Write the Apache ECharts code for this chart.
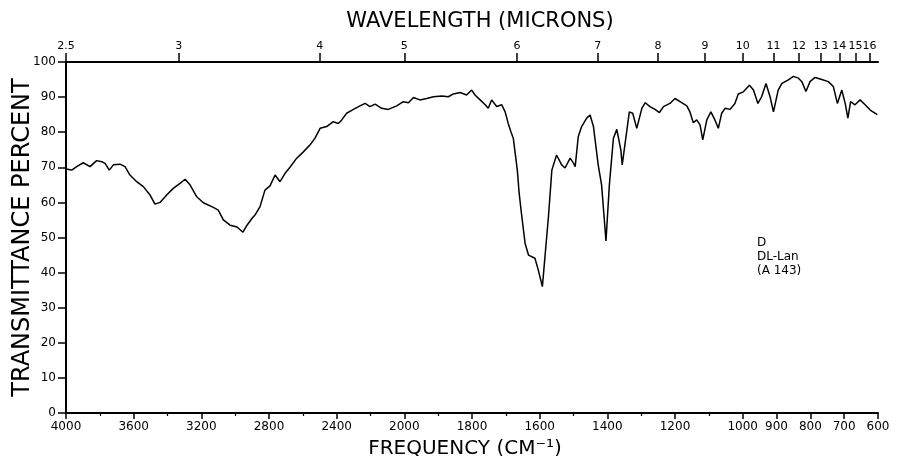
<!DOCTYPE html>
<html>
<head>
<meta charset="utf-8">
<script src="https://cdn.jsdelivr.net/npm/echarts@6/dist/echarts.min.js"></script>
<style>html,body{margin:0;padding:0;background:#fff;}#c{width:898px;height:456px;}</style>
</head>
<body>
<div id="c"></div>
<script>
// Tick labels
const freqTicks = [4000,3600,3200,2800,2400,2000,1800,1600,1400,1200,1000,900,800,700,600];
const freqMinor = [3800,3400,3000,2600,2200,1900,1700,1500,1300,1100];
const micronTicks = [2.5,3,4,5,6,7,8,9,10,11,12,13,14,15,16];
const annotation = ['D','DL-Lan','(A 143)'];

// Spectrum: frequency (cm-1) and transmittance (%)
const freq = [4000,3966,3937,3898,3858,3819,3789,3769,3744,3720,3681,3651,3622,3582,3543,3503,3474,3444,3405,3366,3326,3296,3267,3227,3188,3129,3100,3070,3030,2989,2954,2930,2900,2883,2853,2824,2794,2764,2735,2705,2676,2636,2597,2557,2528,2498,2459,2420,2390,2370,2341,2301,2262,2232,2203,2173,2134,2095,2045,2006,1988,1973,1954,1934,1914,1889,1870,1855,1835,1816,1801,1791,1776,1761,1752,1742,1727,1712,1702,1693,1685,1678,1666,1661,1655,1643,1633,1614,1604,1592,1574,1564,1550,1535,1525,1510,1500,1495,1486,1476,1461,1451,1441,1427,1417,1404,1394,1382,1372,1360,1356,1335,1325,1313,1298,1288,1274,1259,1246,1234,1215,1200,1185,1165,1156,1146,1136,1126,1118,1106,1094,1082,1072,1062,1052,1037,1023,1013,998,980,968,955,944,931,919,909,895,884,865,850,835,825,813,801,786,766,747,732,720,707,697,689,681,668,653,638,623,602];
const trans = [69.5,69.2,70.2,71.3,70.2,71.9,71.6,71.1,69.2,70.7,70.9,70.2,67.8,65.9,64.5,62.1,59.5,60.0,62.1,64.0,65.4,66.6,65.0,61.6,59.9,58.6,57.8,55.0,53.5,53.0,51.5,53.5,55.5,56.4,58.8,63.5,64.7,67.8,65.9,68.3,70.0,72.6,74.4,76.4,78.3,81.1,81.6,83.0,82.5,83.5,85.4,86.5,87.5,88.2,87.3,88.0,86.8,86.5,87.5,88.7,88.4,89.9,89.2,89.6,90.1,90.3,90.1,90.9,91.3,90.6,92.0,90.6,89.2,87.8,86.8,89.2,87.3,87.8,85.8,82.5,80.1,78.3,69.2,63.0,57.8,48.3,45.0,44.1,40.7,36.0,56.0,69.2,73.5,70.7,69.8,72.6,71.2,70.2,78.7,81.6,84.0,84.9,81.6,70.7,65.0,49.0,65.0,78.3,80.8,74.9,70.7,85.8,85.4,81.1,86.8,88.4,87.3,86.5,85.6,87.3,88.2,89.6,88.7,87.5,85.8,82.7,83.5,82.1,77.8,83.5,85.8,83.5,81.1,85.4,86.8,86.5,88.2,90.9,91.5,93.4,92.0,88.2,90.1,93.9,90.1,85.8,92.0,93.9,94.9,95.9,95.4,94.4,91.6,94.4,95.6,95.0,94.4,93.0,88.2,92.0,88.2,84.0,88.7,87.8,89.2,87.8,86.3,85.0];

// Two-scale IR chart abscissa (scale doubles below 2000 cm-1)
function toU(f){ return f >= 2000 ? (4000 - f) / 2 : 1000 + (2000 - f); }
const freqLabelMap = {}; freqTicks.forEach(f => { freqLabelMap[toU(f).toFixed(3)] = String(f); });
const micronLabelMap = {}; micronTicks.forEach(m => { micronLabelMap[toU(10000 / m).toFixed(3)] = String(m); });

const font = 'DejaVu Sans';
const gridBox = {left: 66, right: 20, top: 62, bottom: 43, containLabel: false, outerBoundsMode: 'none'};
const chart = echarts.init(document.getElementById('c'), null, {renderer: 'canvas'});
chart.setOption({
  animation: false,
  backgroundColor: '#fff',
  grid: [Object.assign({}, gridBox), Object.assign({}, gridBox)],
  xAxis: [
    {
      type: 'value', gridIndex: 0, position: 'bottom', min: 0, max: 2400,
      name: 'FREQUENCY (CM⁻¹)', nameLocation: 'middle', nameGap: 26,
      nameTextStyle: {fontFamily: font, fontSize: 20, color: '#000', padding: [0, 14, 0, 0]},
      axisLine: {show: true, onZero: false, lineStyle: {color: '#000', width: 2}},
      axisTick: {show: true, length: 6, customValues: freqTicks.map(toU), lineStyle: {color: '#000', width: 1.5}},
      axisLabel: {show: true, customValues: freqTicks.map(toU), margin: 8, fontFamily: font, fontSize: 12, color: '#000',
        formatter: v => freqLabelMap[Number(v).toFixed(3)] || ''},
      splitLine: {show: false}
    },
    {
      type: 'value', gridIndex: 0, position: 'top', min: 0, max: 2400,
      name: 'WAVELENGTH (MICRONS)', nameLocation: 'middle', nameGap: 30,
      nameTextStyle: {fontFamily: font, fontSize: 21, color: '#000', padding: [0, 0, 0, 16]},
      axisLine: {show: true, onZero: false, lineStyle: {color: '#000', width: 2}},
      axisTick: {show: true, length: 9, customValues: micronTicks.map(m => toU(10000 / m)), lineStyle: {color: '#000', width: 1.5}},
      axisLabel: {show: true, customValues: micronTicks.map(m => toU(10000 / m)), margin: 10, fontFamily: font, fontSize: 11, color: '#000',
        formatter: v => micronLabelMap[Number(v).toFixed(3)] || ''},
      splitLine: {show: false}
    },
    {
      type: 'value', gridIndex: 1, position: 'bottom', min: 0, max: 2400,
      axisLine: {show: false},
      axisTick: {show: true, length: 3, customValues: freqMinor.map(toU), lineStyle: {color: '#000', width: 1.2}},
      axisLabel: {show: false},
      splitLine: {show: false}
    }
  ],
  yAxis: [
    {
      type: 'value', gridIndex: 0, position: 'left', min: 0, max: 100, interval: 10,
      name: 'TRANSMITTANCE PERCENT', nameLocation: 'middle', nameGap: 31, nameRotate: 90, nameMoveOverlap: false,
      nameTextStyle: {fontFamily: font, fontSize: 24, color: '#000'},
      axisLine: {show: true, lineStyle: {color: '#000', width: 2}},
      axisTick: {show: true, length: 8, lineStyle: {color: '#000', width: 1.5}},
      axisLabel: {margin: 10, fontFamily: font, fontSize: 12, color: '#000'},
      splitLine: {show: false}
    },
    {
      type: 'value', gridIndex: 0, position: 'right', min: 0, max: 100, interval: 10,
      axisLine: {show: true, lineStyle: {color: '#000', width: 2}},
      axisTick: {show: false}, axisLabel: {show: false}, splitLine: {show: false}
    },
    {
      type: 'value', gridIndex: 1, min: 0, max: 100, show: false
    }
  ],
  graphic: [{
    type: 'text', left: 757, top: 236,
    style: {text: annotation.join('\n'), fontFamily: font, fontSize: 12, lineHeight: 14, fill: '#000'}
  }],
  series: [{
    type: 'line', xAxisIndex: 0, yAxisIndex: 0,
    data: freq.map((f, i) => [toU(f), trans[i]]),
    showSymbol: false, smooth: false,
    lineStyle: {color: '#000', width: 1.5},
    silent: true
  }]
});
</script>
</body>
</html>
